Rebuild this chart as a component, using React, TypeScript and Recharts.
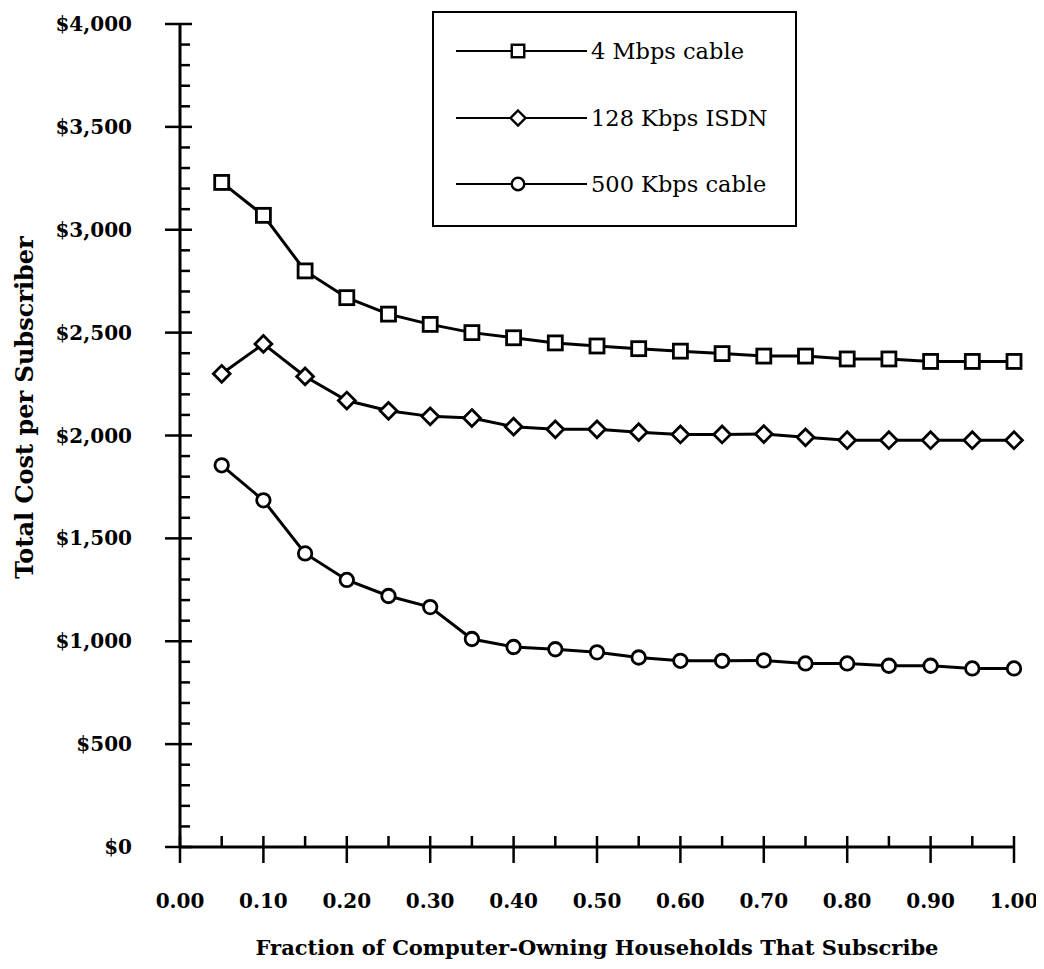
import React from "react";
import {
  LineChart,
  Line,
  XAxis,
  YAxis,
  Legend,
  Label,
} from "recharts";

// values
const fractions = [
  0.05, 0.1, 0.15, 0.2, 0.25, 0.3, 0.35, 0.4, 0.45, 0.5,
  0.55, 0.6, 0.65, 0.7, 0.75, 0.8, 0.85, 0.9, 0.95, 1.0,
];
const cable4Mbps = [
  3230, 3070, 2800, 2670, 2590, 2540, 2500, 2475, 2450, 2435,
  2422, 2410, 2398, 2386, 2386, 2372, 2372, 2360, 2360, 2360,
];
const isdn128Kbps = [
  2300, 2445, 2287, 2170, 2120, 2093, 2085, 2043, 2030, 2030,
  2016, 2005, 2005, 2007, 1991, 1977, 1977, 1977, 1977, 1977,
];
const cable500Kbps = [
  1855, 1685, 1427, 1298, 1220, 1166, 1011, 972, 961, 946,
  921, 905, 905, 907, 892, 892, 881, 881, 868, 868,
];
const seriesNames = ["4 Mbps cable", "128 Kbps ISDN", "500 Kbps cable"];

const xTicks = [
  0, 0.05, 0.1, 0.15, 0.2, 0.25, 0.3, 0.35, 0.4, 0.45, 0.5,
  0.55, 0.6, 0.65, 0.7, 0.75, 0.8, 0.85, 0.9, 0.95, 1.0,
];
const yTicks = [
  0, 100, 200, 300, 400, 500, 600, 700, 800, 900,
  1000, 1100, 1200, 1300, 1400, 1500, 1600, 1700, 1800, 1900,
  2000, 2100, 2200, 2300, 2400, 2500, 2600, 2700, 2800, 2900,
  3000, 3100, 3200, 3300, 3400, 3500, 3600, 3700, 3800, 3900, 4000,
];

const data = fractions.map((x, i) => ({
  x,
  cable4: cable4Mbps[i],
  isdn: isdn128Kbps[i],
  cable500: cable500Kbps[i],
}));

const FONT = "'DejaVu Serif', 'Liberation Serif', serif";

type Shape = "square" | "diamond" | "circle";
const shapes: Shape[] = ["square", "diamond", "circle"];

function marker(shape: Shape, cx: number, cy: number, size: number, sw: number, key?: string) {
  const h = size / 2;
  if (shape === "square") {
    return (
      <rect key={key} x={cx - h} y={cy - h} width={size} height={size}
        fill="#fff" stroke="#000" strokeWidth={sw} />
    );
  }
  if (shape === "diamond") {
    const d = h * 1.2;
    return (
      <polygon key={key}
        points={`${cx},${cy - d} ${cx + d},${cy} ${cx},${cy + d} ${cx - d},${cy}`}
        fill="#fff" stroke="#000" strokeWidth={sw} />
    );
  }
  return <circle key={key} cx={cx} cy={cy} r={h} fill="#fff" stroke="#000" strokeWidth={sw} />;
}

const dotOf = (shape: Shape) => (p: any) =>
  marker(shape, p.cx, p.cy, shape === "circle" ? 13.5 : 14, 2.8, `${shape}-${p.index}`);

const XTick = (props: any) => {
  const { x, y, payload } = props;
  const major = Math.round(payload.value * 100) % 10 === 0;
  return (
    <g>
      <line x1={x} x2={x} y1={y - 11} y2={major ? y + 16 : y} stroke="#000" strokeWidth={2.5} />
      {major && (
        <text x={x} y={y + 54} textAnchor="middle" dominantBaseline="central"
          fontFamily={FONT} fontWeight="bold" fontSize={20} fill="#000">
          {payload.value.toFixed(2)}
        </text>
      )}
    </g>
  );
};

const YTick = (props: any) => {
  const { x, y, payload } = props;
  const major = payload.value % 500 === 0;
  return (
    <g>
      <line x1={major ? x - 15 : x} x2={major ? x + 12 : x + 10} y1={y} y2={y}
        stroke="#000" strokeWidth={2.5} />
      {major && (
        <text x={x - 48} y={y} textAnchor="end" dominantBaseline="central"
          fontFamily={FONT} fontWeight="bold" fontSize={20} fill="#000">
          {"$" + payload.value.toLocaleString("en-US")}
        </text>
      )}
    </g>
  );
};

const LegendBox = (props: any) => {
  const items = [...(props.payload || [])].sort(
    (a: any, b: any) => seriesNames.indexOf(a.value) - seriesNames.indexOf(b.value)
  );
  return (
    <div
      style={{
        width: 365,
        height: 216,
        boxSizing: "border-box",
        border: "2.5px solid #000",
        background: "#fff",
        position: "relative",
      }}
    >
      {items.map((it: any) => {
        const i = seriesNames.indexOf(it.value);
        return (
          <div key={it.value}
            style={{ position: "absolute", left: 22, top: 38 + i * 66.5 - 15, height: 30, display: "flex", alignItems: "center" }}>
            <svg width={135} height={30}>
              <line x1={0} x2={131} y1={15} y2={15} stroke="#000" strokeWidth={2.2} />
              {marker(shapes[i], 62, 15, 12.5, 2.4)}
            </svg>
            <span style={{ fontFamily: FONT, fontSize: 22.5, color: "#000", lineHeight: "30px", whiteSpace: "nowrap" }}>
              {it.value}
            </span>
          </div>
        );
      })}
    </div>
  );
};

export default function App() {
  return (
    <LineChart
      width={1030}
      height={955}
      data={data}
      margin={{ top: 16, right: 24, bottom: 0, left: 0 }}
    >
      <XAxis
        dataKey="x"
        type="number"
        domain={[0, 1]}
        ticks={xTicks}
        interval={0}
        height={116}
        tickSize={0}
        tickMargin={0}
        tickLine={false}
        tick={<XTick />}
        axisLine={{ stroke: "#000", strokeWidth: 3 }}
      >
        <Label
          content={(p: any) => {
            const vb = p.viewBox;
            return (
              <text x={vb.x + vb.width / 2} y={vb.y + 100} textAnchor="middle"
                dominantBaseline="central" fontFamily={FONT} fontWeight="bold"
                fontSize={21} fill="#000">
                Fraction of Computer-Owning Households That Subscribe
              </text>
            );
          }}
        />
      </XAxis>
      <YAxis
        type="number"
        domain={[0, 4000]}
        ticks={yTicks}
        interval={0}
        width={172}
        tickSize={0}
        tickMargin={0}
        tickLine={false}
        tick={<YTick />}
        axisLine={{ stroke: "#000", strokeWidth: 3 }}
      >
        <Label
          content={(p: any) => {
            const vb = p.viewBox;
            const cx = vb.x + 16;
            const cy = vb.y + vb.height / 2 - 28;
            return (
              <text x={cx} y={cy} transform={`rotate(-90, ${cx}, ${cy})`}
                textAnchor="middle" dominantBaseline="central" fontFamily={FONT}
                fontWeight="bold" fontSize={24} fill="#000">
                Total Cost per Subscriber
              </text>
            );
          }}
        />
      </YAxis>
      <Legend
        layout="horizontal"
        verticalAlign="middle"
        align="center"
        content={<LegendBox />}
        wrapperStyle={{ left: 424, top: 3, width: 365, height: 216 }}
      />
      <Line dataKey="cable4" name={seriesNames[0]} stroke="#000" strokeWidth={3}
        dot={dotOf("square")} activeDot={false} isAnimationActive={false} />
      <Line dataKey="isdn" name={seriesNames[1]} stroke="#000" strokeWidth={3}
        dot={dotOf("diamond")} activeDot={false} isAnimationActive={false} />
      <Line dataKey="cable500" name={seriesNames[2]} stroke="#000" strokeWidth={3}
        dot={dotOf("circle")} activeDot={false} isAnimationActive={false} />
    </LineChart>
  );
}
